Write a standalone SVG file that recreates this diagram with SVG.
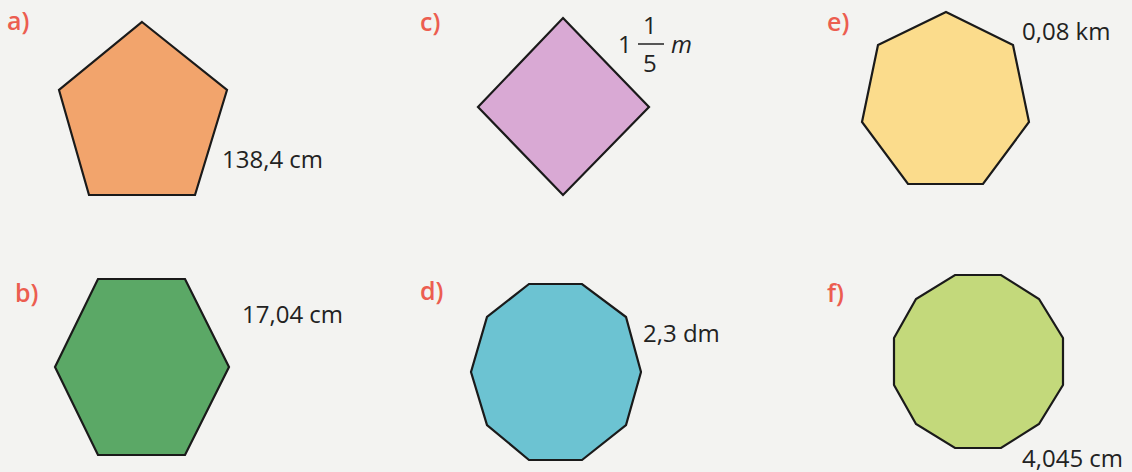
<svg xmlns="http://www.w3.org/2000/svg" width="1132" height="472" viewBox="0 0 1132 472">
<style>
.shape{stroke:#1a1a1a;stroke-width:2.2;stroke-linejoin:miter}
.lbl{font-family:"Open Sans","Noto Sans",sans-serif;font-weight:600;font-size:25px;fill:#ec5d50}
.dim{font-family:"Open Sans","Noto Sans",sans-serif;font-size:24px;fill:#222}
.it{font-style:italic}
</style>
<rect width="1132" height="472" fill="#f3f3f1"/>
<g id="node-a">
<text class="lbl" x="7" y="30">a)</text>
<polygon class="shape" fill="#f2a46c" points="142,22 227,90 195,195 89,195 59,90"/>
<text class="dim" x="222" y="168">138,4 cm</text>
</g>
<g id="node-b">
<text class="lbl" x="15" y="302">b)</text>
<polygon class="shape" fill="#5ba866" points="98,279 185,279 229,367 185,455 98,455 55,367"/>
<text class="dim" x="242" y="323">17,04 cm</text>
</g>
<g id="node-c">
<text class="lbl" x="420" y="31">c)</text>
<polygon class="shape" fill="#d9a9d4" points="563,18 649,107 563,195 478,107"/>
<text class="dim" x="618" y="53">1</text>
<text class="dim" x="643" y="34">1</text>
<line x1="638" y1="44" x2="664" y2="44" stroke="#222" stroke-width="1.5"/>
<text class="dim" x="643" y="72">5</text>
<text class="dim it" x="671" y="53">m</text>
</g>
<g id="node-d">
<text class="lbl" x="420" y="300">d)</text>
<polygon class="shape" fill="#6cc3d2" points="529,284 582,284 626,317 641,372 626,425 582,460 529,460 487,425 471,372 487,317"/>
<text class="dim" x="643" y="342">2,3 dm</text>
</g>
<g id="node-e">
<text class="lbl" x="827" y="31">e)</text>
<polygon class="shape" fill="#fbdc8c" points="946,12 1013,45 1029,122 983,184 908,184 862,122 878,45"/>
<text class="dim" x="1022" y="40">0,08 km</text>
</g>
<g id="node-f">
<text class="lbl" x="827" y="302">f)</text>
<polygon class="shape" fill="#c3d97b" points="955,275 1001,275 1039,299 1063,338 1063,385 1039,424 1001,448 955,448 916,424 894,385 894,338 916,299"/>
<text class="dim" x="1022" y="467">4,045 cm</text>
</g>
<g id="connectors"></g>
</svg>
